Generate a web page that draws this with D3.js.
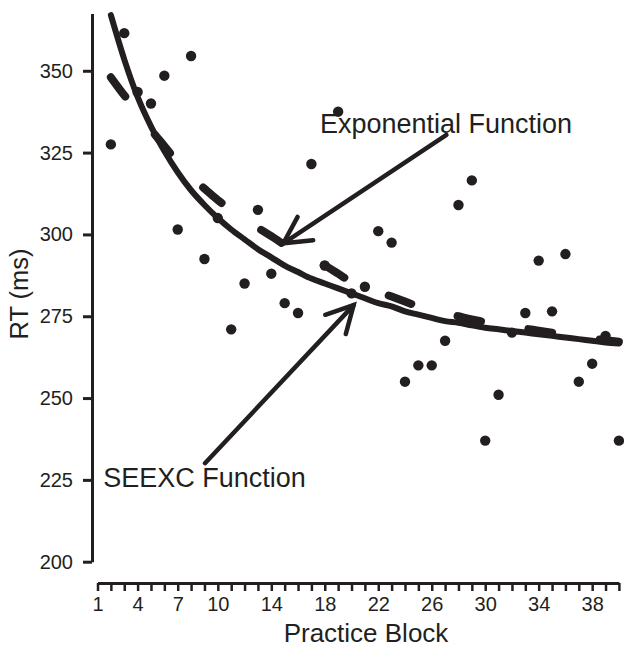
<!DOCTYPE html>
<html>
<head>
<meta charset="utf-8">
<script src="https://cdn.jsdelivr.net/npm/d3@7/dist/d3.min.js"></script>
<style>
body { margin: 0; background: #fff; }
svg text { font-family: "Liberation Sans", Arial, Helvetica, sans-serif; fill: #231f20; }
</style>
</head>
<body>
<svg width="624" height="649"></svg>
<script>
// practice blocks (block 1 has no point)
var blocks = [2, 3, 4, 5, 6, 7, 8, 9, 10, 11, 12, 13, 14, 15, 16, 17, 18, 19, 20, 21,
              22, 23, 24, 25, 26, 27, 28, 29, 30, 31, 32, 33, 34, 35, 36, 37, 38, 39, 40];

// observed mean RT per block (ms)
var rt = [327.5, 361.5, 343.5, 340, 348.5, 301.5, 354.5, 292.5, 305, 271, 285, 307.5, 288, 279, 276, 321.5, 290.5, 337.5, 282, 284,
          301, 297.5, 255, 260, 260, 267.5, 309, 316.5, 237, 251, 270, 276, 292, 276.5, 294, 255, 260.5, 269, 237];

// SEEXC fit (solid)
var seexcFit = [367, 353.5, 342, 333, 325.5, 319, 313.5, 309, 305, 301.5, 298.5, 295.5, 293, 290.5, 288.5, 286.5, 285, 283.5, 282, 280.5,
                279, 278, 276.5, 275.5, 274.5, 273.5, 273, 272.2, 271.5, 271, 270.5, 270, 269.5, 269, 268.5, 268, 267.5, 267, 266.7];

// exponential fit (dashed)
var expFit = [348, 342.5, 337.5, 332, 327, 322, 317.5, 314, 310.5, 307.5, 304.5, 302, 299.5, 296.8, 294.5, 292.5, 290.5, 288, 285.5, 284,
              282.5, 281, 279.5, 278, 277, 276, 275, 274, 273.2, 272.4, 271.8, 271.2, 270.6, 270, 269.4, 268.8, 268.2, 267.7, 267.2];

var yTicks = [200, 225, 250, 275, 300, 325, 350];
var xTickLabels = [1, 4, 7, 10, 14, 18, 22, 26, 30, 34, 38];

var ink = "#231f20";
var svg = d3.select("svg");

var x = d3.scaleLinear().domain([1, 40]).range([97.5, 618.9]);
var y = d3.scaleLinear().domain([200, 367.5]).range([561.7, 13.5]);

// y axis
var gy = svg.append("g")
  .attr("transform", "translate(92,0)")
  .call(d3.axisLeft(y).tickValues(yTicks).tickSize(9).tickPadding(10).tickSizeOuter(0));
gy.select(".domain").attr("stroke", ink).attr("stroke-width", 3);
gy.selectAll(".tick line").attr("stroke", ink).attr("stroke-width", 3);
gy.selectAll(".tick text").attr("font-size", "20px").attr("fill", ink);

// x axis, one tick per block
var gx = svg.append("g")
  .attr("transform", "translate(0,583)")
  .call(d3.axisBottom(x)
    .tickValues(d3.range(1, 41))
    .tickFormat(function(d) { return xTickLabels.indexOf(d) >= 0 ? d : ""; })
    .tickSize(8).tickPadding(6).tickSizeOuter(0));
gx.select(".domain").attr("stroke", ink).attr("stroke-width", 3);
gx.selectAll(".tick line").attr("stroke", ink).attr("stroke-width", 2.5);
gx.selectAll(".tick text").attr("font-size", "20px").attr("fill", ink);

// axis titles
svg.append("text")
  .attr("x", 366)
  .attr("y", 642)
  .attr("text-anchor", "middle")
  .attr("font-size", "26px")
  .text("Practice Block");

svg.append("text")
  .attr("transform", "translate(28,294) rotate(-90)")
  .attr("text-anchor", "middle")
  .attr("font-size", "25.5px")
  .text("RT (ms)");

// points
svg.selectAll(".dot")
  .data(blocks)
  .enter().append("circle")
  .attr("class", "dot")
  .attr("cx", function(d) { return x(d); })
  .attr("cy", function(d, i) { return y(rt[i]); })
  .attr("r", 5.2)
  .attr("fill", ink);

// fitted curves
var line = d3.line()
  .x(function(d) { return x(d[0]); })
  .y(function(d) { return y(d[1]); })
  .curve(d3.curveMonotoneX);

svg.append("path")
  .attr("d", line(blocks.map(function(b, i) { return [b, expFit[i]]; })))
  .attr("fill", "none")
  .attr("stroke", ink)
  .attr("stroke-width", 8)
  .attr("stroke-linecap", "round")
  .attr("stroke-dasharray", "24,48");

svg.append("path")
  .attr("d", line(blocks.map(function(b, i) { return [b, seexcFit[i]]; })))
  .attr("fill", "none")
  .attr("stroke", ink)
  .attr("stroke-width", 6)
  .attr("stroke-linecap", "round");

// annotations: label position, arrow tail and tip in data units
var notes = [
  { text: "Exponential Function", at: [17.64, 331], from: [27.1, 330.4], to: [14.9, 297.3] },
  { text: "SEEXC Function", at: [1.43, 222.9], from: [9.04, 230.1], to: [20.16, 278.4] }
];

notes.forEach(function(n) {
  svg.append("text")
    .attr("x", x(n.at[0]))
    .attr("y", y(n.at[1]))
    .attr("font-size", "27px")
    .text(n.text);

  var x0 = x(n.from[0]), y0 = y(n.from[1]);
  var x1 = x(n.to[0]), y1 = y(n.to[1]);
  var a = Math.atan2(y0 - y1, x0 - x1);
  var len = 30, spread = 28 * Math.PI / 180;
  var head = [
    [x1 + len * Math.cos(a - spread), y1 + len * Math.sin(a - spread)],
    [x1, y1],
    [x1 + len * Math.cos(a + spread), y1 + len * Math.sin(a + spread)]
  ];

  svg.append("line")
    .attr("x1", x0).attr("y1", y0)
    .attr("x2", x1).attr("y2", y1)
    .attr("stroke", ink)
    .attr("stroke-width", 4.5)
    .attr("stroke-linecap", "round");

  svg.append("path")
    .attr("d", d3.line()(head))
    .attr("fill", "none")
    .attr("stroke", ink)
    .attr("stroke-width", 4.5)
    .attr("stroke-linecap", "round")
    .attr("stroke-linejoin", "miter");
});
</script>
</body>
</html>
